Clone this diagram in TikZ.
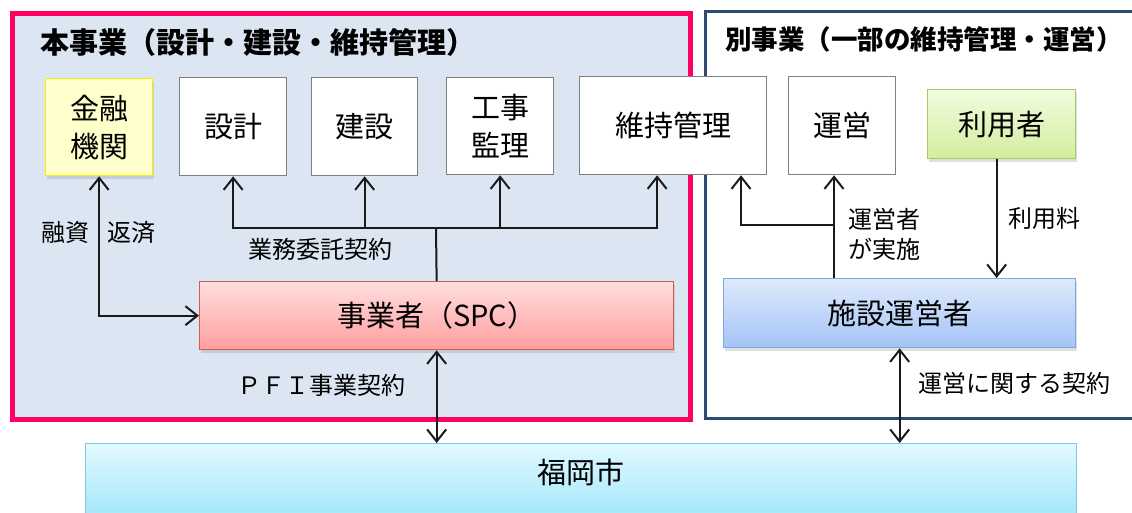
\documentclass[tikz,border=0pt]{standalone}
\usepackage{fontspec}
\setmainfont{Noto Sans CJK JP}
\usetikzlibrary{arrows.meta,shadows}
\definecolor{pinkline}{HTML}{FF0066}
\definecolor{mainfill}{HTML}{DCE6F2}
\definecolor{navyline}{HTML}{2D4B6E}
\definecolor{boxgray}{HTML}{7F7F7F}
\definecolor{linecol}{HTML}{1A1A1A}
\definecolor{yelfill}{HTML}{FFFFCC}
\definecolor{yelline}{HTML}{F2F200}
\definecolor{grtop}{HTML}{F2FBDF}
\definecolor{grbot}{HTML}{D2EE9E}
\definecolor{grline}{HTML}{A6C96A}
\definecolor{rdtop}{HTML}{FFDEDE}
\definecolor{rdbot}{HTML}{FF9E9E}
\definecolor{rdline}{HTML}{D05A58}
\definecolor{bltop}{HTML}{DFEAFC}
\definecolor{blbot}{HTML}{A3C3F6}
\definecolor{blline}{HTML}{7FA6DE}
\definecolor{cytop}{HTML}{E2F9FF}
\definecolor{cybot}{HTML}{9DE5FA}
\definecolor{cyline}{HTML}{7ACBE0}
\begin{document}
\begin{tikzpicture}[x=1pt,y=-1pt,
  lbl/.style={font=\fontsize{24}{30}\selectfont, inner sep=0pt, align=left},
  boxtxt/.style={font=\fontsize{29}{38}\selectfont, align=center, inner sep=0pt, anchor=north west},
  wbox/.style={boxtxt, draw=boxgray, line width=1.3pt, fill=white},
  cbox/.style={boxtxt, line width=1.3pt, drop shadow={opacity=0.25, shadow xshift=1.5pt, shadow yshift=-3.5pt}},
  conn/.style={line width=2pt, draw=linecol},
  arr/.style={conn, -{Straight Barb[length=12pt,width=19pt]}},
  darr/.style={conn, {Straight Barb[length=12pt,width=19pt]}-{Straight Barb[length=12pt,width=19pt]}},
  frame/.style={inner sep=0pt, anchor=north west},
]
\useasboundingbox (0,0) rectangle (1132,513);
\fill[white] (0,0) rectangle (1132,513);

% frames
\node[frame, draw=pinkline, fill=mainfill, line width=5pt, minimum width=677.5pt, minimum height=405pt] (mainframe) at (10,11.5) {};
\node[frame, draw=navyline, fill=white, line width=3pt, minimum width=440pt, minimum height=406pt] (subframe) at (703.5,10.5) {};

% titles
\node[font=\fontsize{29}{35}\selectfont\bfseries, anchor=west, inner sep=0pt] (t1) at (40,42) {本事業（設計・建設・維持管理）};
\node[font=\fontsize{26.5}{32}\selectfont\bfseries, anchor=west, inner sep=0pt] (t2) at (725,39) {別事業（一部の維持管理・運営）};

% top row boxes
\node[cbox, draw=yelline, fill=yelfill, minimum width=107pt, minimum height=97pt] (kinyu) at (45,78) {金融\\機関};
\node[wbox, minimum width=107pt, minimum height=98pt] (sekkei) at (179,77) {設計};
\node[wbox, minimum width=106pt, minimum height=98pt] (kensetsu) at (311,77) {建設};
\node[wbox, minimum width=107pt, minimum height=97pt] (kanri) at (446,77) {工事\\監理};
\node[wbox, minimum width=187pt, minimum height=98pt] (iji) at (579,76) {維持管理};
\node[wbox, minimum width=107pt, minimum height=98pt] (unei) at (788,76) {運営};
\node[cbox, draw=grline, top color=grtop, bottom color=grbot, minimum width=148pt, minimum height=69pt] (riyo) at (927,89) {利用者};

% middle boxes
\node[cbox, draw=rdline, top color=rdtop, bottom color=rdbot, minimum width=474pt, minimum height=68pt] (spc) at (199,281) {事業者（SPC）};
\node[cbox, draw=blline, top color=bltop, bottom color=blbot, minimum width=352pt, minimum height=69pt] (shisetsu) at (723,278) {施設運営者};

% bottom box
\node[boxtxt, draw=cyline, line width=1.2pt, top color=cytop, bottom color=cybot, minimum width=991pt, minimum height=80pt, text height=22pt, text depth=22pt] (fukuoka) at (85,443) {福岡市};

% connectors
\coordinate (j) at (436,228);
\coordinate (k) at (834,225);
\coordinate (m) at (741,225);
\draw[darr] (kinyu.south) |- (spc.west);
\draw[conn] (spc.north) -- (j);
\draw[arr] (j) -| (sekkei.south);
\draw[arr] (j) -| (kensetsu.south);
\draw[arr] (j) -| (kanri.south);
\draw[arr] (j) -| ([xshift=-16pt]iji.south);
\draw[darr] (spc.south) -- (spc.south |- fukuoka.north);
\draw[arr] (k |- shisetsu.north) -- (k |- unei.south);
\draw[arr] (k) -| (m |- iji.south);
\draw[arr] ([xshift=-5pt]riyo.south) -- ([xshift=-5pt]riyo.south |- shisetsu.north);
\draw[darr] (shisetsu.south) -- (shisetsu.south |- fukuoka.north);

% labels
\node[lbl, anchor=west] (l1) at (41,232) {融資};
\node[lbl, anchor=west] (l2) at (107,232) {返済};
\node[lbl, anchor=west] (l3) at (248,249) {業務委託契約};
\node[lbl, anchor=west] (l4) at (237,385) {ＰＦＩ事業契約};
\node[lbl, anchor=west] (l5) at (848,234) {運営者\\が実施};
\node[lbl, anchor=west] (l6) at (1008,218) {利用料};
\node[lbl, anchor=west] (l7) at (918,383) {運営に関する契約};
\end{tikzpicture}
\end{document}
